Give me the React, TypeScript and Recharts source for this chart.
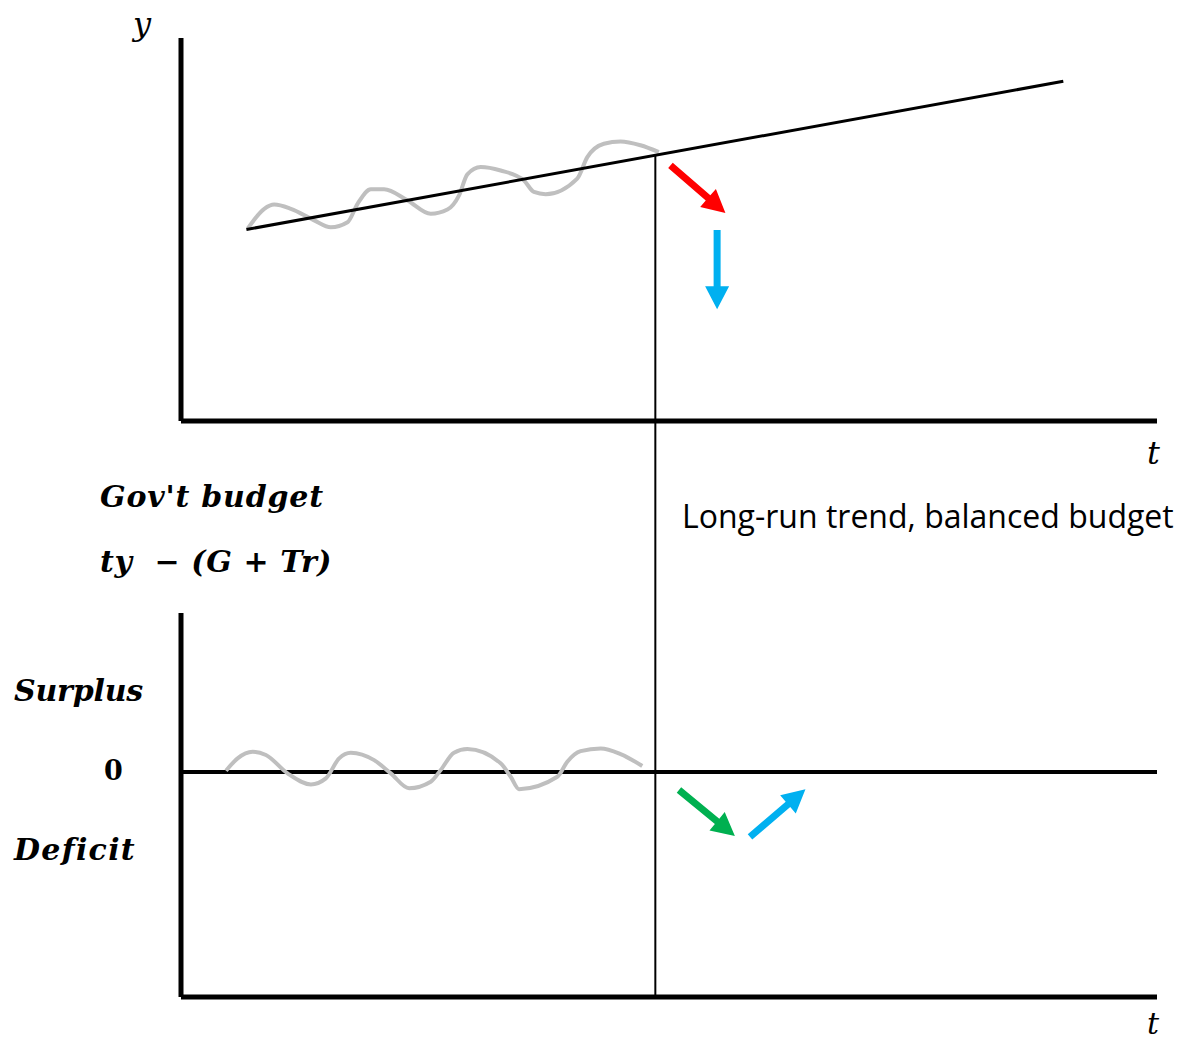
import { ComposedChart, Line, XAxis, YAxis, ReferenceLine } from 'recharts';

// time axis runs 0..100 in both panels
const trendT = [6.7, 90.4];
const trendY = [50, 88.7];

// actual output wobbling round the trend
const outputWaveT = [6.83, 8.53, 9.55, 11.26, 13.64, 15.35, 17.06, 18.09, 19.45, 20.81, 23.2, 25.59, 27.3, 28.49, 29.34, 30.71, 32.75, 35.14, 36.16, 37.36, 40.6, 41.63, 43.33, 45.04, 47.08, 48.96];
const outputWaveY = [50.2, 55.4, 56.5, 55.4, 52.4, 50.6, 51.9, 56.7, 60.5, 60.5, 57.6, 54.1, 55.2, 58.9, 64.4, 66.3, 65.4, 62.8, 59.8, 59.2, 63.3, 68.9, 72.4, 73.0, 72.0, 70.2];

// budget balance wobbling round zero
const budgetWaveT = [4.61, 5.8, 7.34, 8.7, 10.92, 13.31, 14.84, 16.2, 17.4, 19.79, 21.5, 23.37, 25.59, 26.61, 27.97, 29.34, 32.75, 33.78, 34.63, 38.56, 39.58, 40.94, 43.0, 45.04, 47.26];
const budgetWaveB = [0.06, 0.61, 0.9, 0.76, -0.06, -0.55, -0.28, 0.61, 0.86, 0.53, -0.06, -0.72, -0.43, 0.09, 0.86, 1.02, 0.39, -0.21, -0.76, -0.21, 0.46, 0.93, 1.05, 0.8, 0.27];

const shockT = 48.6;

const redArrowT = [50.15, 55.78];
const redArrowY = [66.75, 54.3];
const outputDropT = [54.93, 54.93];
const outputDropY = [49.9, 29.2];
const greenArrowT = [51.02, 56.75];
const greenArrowB = [-0.8, -2.84];
const budgetRiseT = [58.3, 63.98];
const budgetRiseB = [-2.88, -0.77];

const zip = (ts: number[], vs: number[]) => ts.map((t, i) => ({ t, v: vs[i] }));

const trendAt = (t: number) =>
  trendY[0] + ((t - trendT[0]) * (trendY[1] - trendY[0])) / (trendT[1] - trendT[0]);

// draws a block arrow from the first point of the series to the second
const arrowDot = (color: string) => (props: any) => {
  const { index, points } = props;
  if (index !== 1 || !points || points.length < 2) return <g key={`a-${index}`} />;
  const a = points[0];
  const b = points[1];
  const dx = b.x - a.x;
  const dy = b.y - a.y;
  const len = Math.hypot(dx, dy) || 1;
  const ux = dx / len;
  const uy = dy / len;
  const nx = -uy;
  const ny = ux;
  const head = 23;
  const hw = 12;
  const sw = 3.5;
  const bx = b.x - ux * head;
  const by = b.y - uy * head;
  const poly = [
    [a.x + nx * sw, a.y + ny * sw],
    [bx + nx * sw, by + ny * sw],
    [bx + nx * hw, by + ny * hw],
    [b.x, b.y],
    [bx - nx * hw, by - ny * hw],
    [bx - nx * sw, by - ny * sw],
    [a.x - nx * sw, a.y - ny * sw],
  ];
  return <polygon key={`a-${index}`} points={poly.map((p) => p.join(',')).join(' ')} fill={color} />;
};

const axisLine = { stroke: '#000', strokeWidth: 5 };
const mathFont = '"DejaVu Serif", serif';

const label = (text: string, left: number, top: number, size: number, extra: any = {}) => (
  <div
    style={{
      position: 'absolute',
      left,
      top,
      fontSize: size,
      lineHeight: 1,
      fontFamily: mathFont,
      fontStyle: 'italic',
      fontWeight: 700,
      color: '#000',
      whiteSpace: 'pre',
      ...extra,
    }}
  >
    {text}
  </div>
);

export default function App() {
  return (
    <div style={{ position: 'relative', width: 1182, height: 1042, margin: -8, background: '#fff' }}>
      <div style={{ position: 'absolute', left: 0, top: 0 }}>
        <ComposedChart width={1182} height={613} margin={{ top: 38, right: 25, left: 180, bottom: 191 }}>
          <XAxis type="number" dataKey="t" domain={[0, 100]} allowDataOverflow height={1} tick={false} tickLine={false} axisLine={axisLine} />
          <YAxis type="number" dataKey="v" domain={[0, 100]} allowDataOverflow width={1} tick={false} tickLine={false} axisLine={axisLine} />
          <ReferenceLine
            segment={[{ x: shockT, y: trendAt(shockT) }, { x: shockT, y: -52 }]}
            stroke="#000"
            strokeWidth={2}
            ifOverflow="visible"
          />
          <Line data={zip(outputWaveT, outputWaveY)} dataKey="v" type="monotone" stroke="#BFBFBF" strokeWidth={4} dot={false} isAnimationActive={false} />
          <Line data={zip(trendT, trendY)} dataKey="v" type="linear" stroke="#000" strokeWidth={3} dot={false} isAnimationActive={false} />
          <Line data={zip(redArrowT, redArrowY)} dataKey="v" stroke="none" dot={arrowDot('#FF0000')} activeDot={false} isAnimationActive={false} />
          <Line data={zip(outputDropT, outputDropY)} dataKey="v" stroke="none" dot={arrowDot('#00B0F0')} activeDot={false} isAnimationActive={false} />
        </ComposedChart>
      </div>
      <div style={{ position: 'absolute', left: 0, top: 613 }}>
        <ComposedChart width={1182} height={429} margin={{ top: 0, right: 25, left: 180, bottom: 44 }}>
          <XAxis type="number" dataKey="t" domain={[0, 100]} allowDataOverflow height={1} tick={false} tickLine={false} axisLine={axisLine} />
          <YAxis type="number" dataKey="v" domain={[-10, 7.07]} allowDataOverflow width={1} tick={false} tickLine={false} axisLine={axisLine} />
          <ReferenceLine x={shockT} stroke="#000" strokeWidth={2} />
          <ReferenceLine y={0} stroke="#000" strokeWidth={4} />
          <Line data={zip(budgetWaveT, budgetWaveB)} dataKey="v" type="monotone" stroke="#BFBFBF" strokeWidth={4} dot={false} isAnimationActive={false} />
          <Line data={zip(greenArrowT, greenArrowB)} dataKey="v" stroke="none" dot={arrowDot('#00B050')} activeDot={false} isAnimationActive={false} />
          <Line data={zip(budgetRiseT, budgetRiseB)} dataKey="v" stroke="none" dot={arrowDot('#00B0F0')} activeDot={false} isAnimationActive={false} />
        </ComposedChart>
      </div>

      {label('y', 133, 8, 32, { fontWeight: 400 })}
      {label('t', 1147, 437, 32, { fontWeight: 400 })}
      {label('t', 1147, 1009, 30, { fontWeight: 400 })}
      {label("Gov't budget", 100, 482, 30, { letterSpacing: 0.8 })}
      {label('ty  − (G + Tr)', 100, 547, 30, { letterSpacing: 0.6 })}
      {label('Surplus', 14, 676, 30, { letterSpacing: -0.2 })}
      {label('0', 104, 757, 27, { fontStyle: 'normal' })}
      {label('Deficit', 14, 835, 30, { letterSpacing: 1.3 })}
      <div
        style={{
          position: 'absolute',
          left: 682,
          top: 500,
          fontSize: 32,
          lineHeight: 1,
          fontFamily: '"Open Sans", sans-serif',
          color: '#000',
          whiteSpace: 'pre',
        }}
      >
        Long-run trend, balanced budget
      </div>
    </div>
  );
}
